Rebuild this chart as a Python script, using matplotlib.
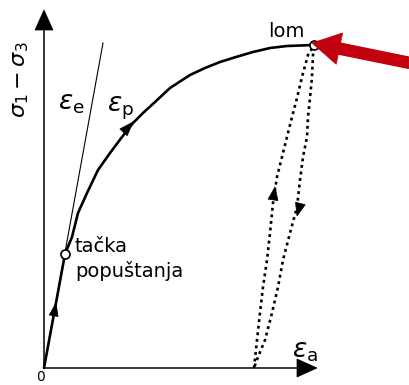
import numpy as np
import matplotlib
matplotlib.use('Agg')
import matplotlib.pyplot as plt
from matplotlib.patches import Polygon

plt.rcParams['mathtext.fontset'] = 'dejavusans'

# schematic data (strain units, stress units), origin at 0
krivulja_x = [0, 21, 28, 34, 43, 54, 66, 78, 89, 99, 111, 126, 146, 161, 176, 192, 209, 226, 243, 270]
krivulja_y = [0, 114, 131, 155, 175, 198, 215, 231, 245, 255, 266, 280, 293, 300, 306, 311, 316, 320, 322, 323]
elasticna_x = [0, 59]
elasticna_y = [0, 325]
rasterecenje_x = [270, 269, 268, 266, 264, 263, 259, 256, 253, 246, 239, 234, 228, 221, 214, 210]
rasterecenje_y = [321, 313, 291, 270, 251, 231, 211, 188, 161, 135, 108, 81, 55, 28, 11, 0]
opterecenje_x = [210, 213, 216, 219, 223, 226, 229, 233, 238, 243, 248, 253, 258, 264, 269]
opterecenje_y = [0, 28, 55, 81, 108, 135, 165, 191, 211, 231, 251, 270, 291, 313, 321]
popustanje = (21, 114)
lom = (270, 323)
osa_x_kraj = 273
osa_y_kraj = 358

CRVENA = '#c3000f'


def vrh_strelice(ax, vrh, smjer, duzina, sirina, boja='black', z=5):
    d = np.asarray(smjer, float)
    d = d / np.hypot(*d)
    n = np.array([-d[1], d[0]])
    v = np.asarray(vrh, float)
    baza = v - duzina * d
    pts = [v, baza + sirina / 2 * n, baza - sirina / 2 * n]
    ax.add_patch(Polygon(pts, closed=True, facecolor=boja, edgecolor=boja, lw=0.5, zorder=z))


fig = plt.figure(figsize=(4.1, 3.85), dpi=100)
ax = fig.add_axes([0, 0, 1, 1])
ax.set_xlim(-44, 366)
ax.set_ylim(-17, 368)
ax.axis('off')

# axes
ax.plot([0, 0], [0, osa_y_kraj - 18], color='black', lw=1.1)
ax.plot([0, osa_x_kraj - 18], [0, 0], color='black', lw=1.1)
vrh_strelice(ax, (0, osa_y_kraj), (0, 1), 20, 18)
vrh_strelice(ax, (osa_x_kraj, 0), (1, 0), 20, 18)

# elastic line (thin)
ax.plot(elasticna_x, elasticna_y, color='black', lw=0.8)

# main curve
ax.plot(krivulja_x, krivulja_y, color='black', lw=1.9, solid_capstyle='round',
        solid_joinstyle='round')

# unloading / reloading loop
ax.plot(rasterecenje_x, rasterecenje_y, color='black', lw=1.9,
        linestyle=(0, (1.1, 1.4)))
ax.plot(opterecenje_x, opterecenje_y, color='black', lw=1.9,
        linestyle=(0, (1.1, 1.4)))

# small arrows on the paths
vrh_strelice(ax, (12, 65), (krivulja_x[1], krivulja_y[1]), 13, 9)
vrh_strelice(ax, (89, 246), (11, 12), 14, 10)
vrh_strelice(ax, (231, 181), (4, 26), 13, 10)
vrh_strelice(ax, (253, 152), (-7, -26), 13, 10)

# points
ax.plot(*popustanje, marker='o', ms=6.5, mfc='white', mec='black', mew=1.2, zorder=6)
ax.plot(*lom, marker='o', ms=6.5, mfc='white', mec='black', mew=1.2, zorder=6)

# red arrow pointing at failure
rx0, ry0 = 366, 305
rx1, ry1 = 268, 325
d = np.array([rx1 - rx0, ry1 - ry0], float)
ud = d / np.hypot(*d)
ax.plot([rx0 - 10 * ud[0], rx1 - 22 * ud[0]], [ry0 - 10 * ud[1], ry1 - 22 * ud[1]],
        color=CRVENA, lw=9, solid_capstyle='butt', zorder=7)
vrh_strelice(ax, (rx1, ry1), d, 28, 32, boja=CRVENA, z=8)

# labels
ax.text(-23, 288, r'$\sigma_1 - \sigma_3$', rotation=90, fontsize=16,
        ha='center', va='center')
ax.text(14, 258, r'$\varepsilon_{\mathrm{e}}$', fontsize=19, ha='left', va='baseline')
ax.text(63, 256, r'$\varepsilon_{\mathrm{p}}$', fontsize=19, ha='left', va='baseline')
ax.text(248, 10, r'$\varepsilon_{\mathrm{a}}$', fontsize=19, ha='left', va='baseline')
ax.text(31, 116, 'tačka', fontsize=14, ha='left', va='baseline')
ax.text(31, 91, 'popuštanja', fontsize=14, ha='left', va='baseline')
ax.text(224, 331, 'lom', fontsize=14, ha='left', va='baseline')
ax.text(-3, -2, '0', fontsize=10, ha='center', va='top')

fig.savefig('out.png', dpi=100)
